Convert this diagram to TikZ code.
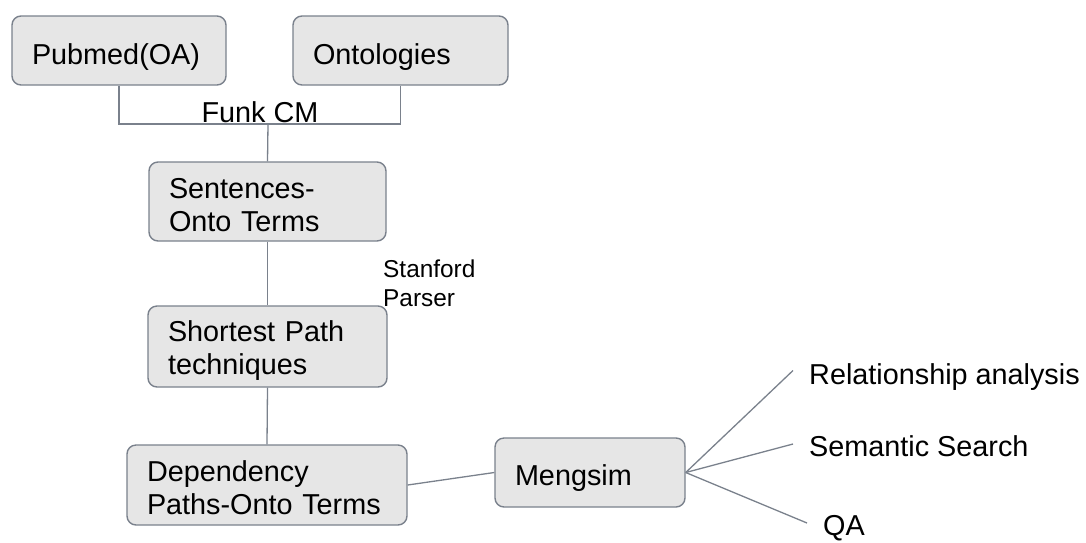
\documentclass[tikz,border=0pt]{standalone}
\usepackage{fontspec}
\setmainfont{Liberation Sans}
\definecolor{boxfill}{HTML}{E6E6E6}
\definecolor{boxline}{HTML}{7A818C}
\begin{document}
\begin{tikzpicture}[x=1pt, y=-1pt,
    box/.style={draw=boxline, fill=boxfill, line width=1.4pt, rounded corners=9pt,
      align=left, inner xsep=20pt, inner ysep=0pt, font=\fontsize{28.8}{33}\selectfont},
    drop/.style={execute at begin node={\rule{0pt}{#1}}},
    leaf/.style={anchor=west, inner xsep=16pt, inner ysep=0pt, font=\fontsize{28.8}{33}\selectfont},
    link/.style={draw=boxline, line width=1.3pt}]
  \useasboundingbox (0,0) rectangle (1086,542);
  \node[box, drop=33pt, text width=174pt, minimum height=69pt] (pubmed) at (119,50.5) {Pubmed(OA)};
  \node[box, drop=33pt, text width=175pt, minimum height=69pt] (ontos) at (400.5,50.5) {Ontologies};
  \coordinate (fork) at (268,124);
  \node[inner sep=0pt, font=\fontsize{28.8}{33}\selectfont] (funk) at (260,112) {Funk CM};
  \node[box, drop=27pt, text width=197pt, minimum height=79pt] (sents) at (267.5,201.5) {Sentences-\\Onto Terms};
  \node[anchor=west, align=left, inner sep=0pt, font=\fontsize{24.4}{29}\selectfont] (parser) at (383,283) {Stanford\\Parser};
  \node[box, drop=29pt, text width=199pt, minimum height=81pt] (shortest) at (267.5,346.5) {Shortest Path\\techniques};
  \node[box, drop=26pt, text width=240pt, minimum height=80pt] (deppaths) at (267,485) {Dependency\\Paths-Onto Terms};
  \node[box, drop=31pt, text width=150pt, minimum height=69pt] (mengsim) at (590,472.5) {Mengsim};
  \node[leaf] (relan) at (793,377.5) {Relationship analysis};
  \node[leaf] (semsearch) at (793,446.5) {Semantic Search};
  \node[leaf] (qa) at (807,528) {QA};
  % connectors
  \draw[link] (pubmed.south) |- (fork) -| (ontos.south);
  \draw[link] (fork) -- (sents.north);
  \draw[link] (sents.south) -- (shortest.north);
  \draw[link] (shortest.south) -- (deppaths.north);
  \draw[link] (deppaths.east) -- (mengsim.west);
  \draw[link] (mengsim.east) -- ([yshift=7pt]relan.west);
  \draw[link] (mengsim.east) -- ([yshift=2.5pt]semsearch.west);
  \draw[link] (mengsim.east) -- ([yshift=5pt]qa.west);
\end{tikzpicture}
\end{document}
